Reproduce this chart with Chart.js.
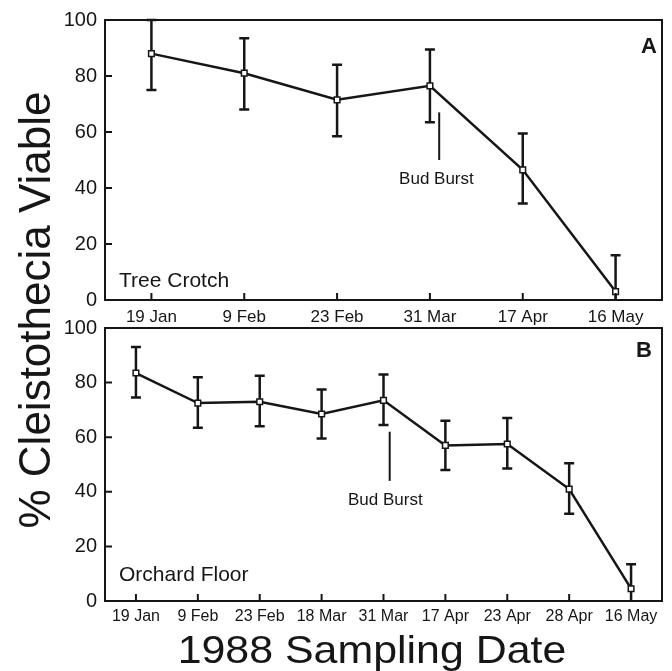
<!DOCTYPE html>
<html>
<head>
<meta charset="utf-8">
<script src="https://cdn.jsdelivr.net/npm/chart.js@4"></script>
<style>
  html, body { margin: 0; padding: 0; background: #fff; }
  #wrap { position: relative; width: 672px; height: 671px; overflow: hidden; }
  .box { position: absolute; left: 0; width: 672px; }
  #topBox { top: 0; height: 330px; }
  #botBox { top: 300px; height: 371px; }
  #ytitle { position: absolute; left: -215px; top: 285px; width: 500px; height: 50px; line-height: 50px;
    text-align: center; transform: rotate(-90deg); font-family: "Liberation Sans", Arial, sans-serif;
    font-size: 44px; color: #161616; white-space: nowrap; }
  #xtitle { position: absolute; left: 122px; top: 630px; width: 500px; height: 39px; line-height: 39px;
    text-align: center; transform: scaleX(1.1); transform-origin: 50% 50%; font-family: "Liberation Sans", Arial, sans-serif;
    font-size: 39px; color: #161616; white-space: nowrap; }
</style>
</head>
<body>
<div id="wrap">
  <div class="box" id="topBox"><canvas id="cTop" width="672" height="330"></canvas></div>
  <div class="box" id="botBox"><canvas id="cBot" width="672" height="371"></canvas></div>
  <div id="ytitle">% Cleistothecia Viable</div>
  <div id="xtitle">1988 Sampling Date</div>
</div>
<script>
// ---- Data ----
const topDates = ['19 Jan', '9 Feb', '23 Feb', '31 Mar', '17 Apr', '16 May'];
const topMean  = [88, 81, 71.5, 76.5, 46.5, 3];
const topLow   = [75, 68, 58.5, 63.5, 34.5, 0];
const topHigh  = [100, 93.5, 84, 89.5, 59.5, 16];

const botDates = ['19 Jan', '9 Feb', '23 Feb', '18 Mar', '31 Mar', '17 Apr', '23 Apr', '28 Apr', '16 May'];
const botMean  = [83.5, 72.5, 73, 68.5, 73.5, 57, 57.5, 41, 4.5];
const botLow   = [74.5, 63.5, 64, 59.5, 64.5, 48, 48.5, 32, 0];
const botHigh  = [93, 82, 82.5, 77.5, 83, 66, 67, 50.5, 13.5];

const yTicks = [0, 20, 40, 60, 80, 100];

// Bud burst marker: [x index position, line bottom value, line top value, label x index, label value]
const budBurstTop = [3.1, 50, 67, 3.07, 43];
const budBurstBot = [4.1, 44, 62, 4.03, 37];

const panelLabels = ['A', 'B'];
const siteLabels = ['Tree Crotch', 'Orchard Floor'];

const FONT = '"Liberation Sans", Arial, Helvetica, sans-serif';
const INK = '#161616';

function makeDecor(low, high, bud, panel, site, siteY) {
  return {
    id: 'decor',
    beforeDatasetsDraw(chart) {
      const {ctx, chartArea: a, scales: {x, y}} = chart;
      ctx.save();
      // error bars
      ctx.strokeStyle = INK;
      ctx.lineWidth = 2.5;
      ctx.lineCap = 'butt';
      for (let i = 0; i < low.length; i++) {
        const px = x.getPixelForValue(i);
        const y1 = y.getPixelForValue(low[i]);
        const y2 = y.getPixelForValue(high[i]);
        ctx.beginPath();
        ctx.moveTo(px, y1); ctx.lineTo(px, y2);
        ctx.moveTo(px - 5, y2); ctx.lineTo(px + 5, y2);
        if (low[i] > 0) { ctx.moveTo(px - 5, y1); ctx.lineTo(px + 5, y1); }
        ctx.stroke();
      }
      // bud burst line
      ctx.lineWidth = 2;
      const bx = x.getPixelForValue(bud[0]);
      ctx.beginPath();
      ctx.moveTo(bx, y.getPixelForValue(bud[1]));
      ctx.lineTo(bx, y.getPixelForValue(bud[2]));
      ctx.stroke();
      ctx.fillStyle = INK;
      ctx.font = '17px ' + FONT;
      ctx.textAlign = 'center';
      ctx.textBaseline = 'middle';
      ctx.fillText('Bud Burst', x.getPixelForValue(bud[3]), y.getPixelForValue(bud[4]));
      // panel letter
      ctx.font = 'bold 22px ' + FONT;
      ctx.textAlign = 'right';
      ctx.fillText(panel, a.right - (panel === 'A' ? 5 : 10), a.top + (panel === 'A' ? 27 : 23));
      // site label
      ctx.font = '21px ' + FONT;
      ctx.textAlign = 'left';
      ctx.fillText(site, a.left + 14, siteY(a));
      ctx.restore();
    },
    afterDraw(chart) {
      const {ctx, chartArea: a, scales: {x, y}} = chart;
      ctx.save();
      ctx.strokeStyle = INK;
      ctx.lineWidth = 2;
      ctx.strokeRect(a.left, a.top, a.right - a.left, a.bottom - a.top);
      ctx.beginPath();
      for (let i = 0; i < x.ticks.length; i++) {
        const px = x.getPixelForValue(i);
        ctx.moveTo(px, a.bottom); ctx.lineTo(px, a.bottom - 7);
      }
      yTicks.forEach(v => {
        const py = y.getPixelForValue(v);
        ctx.moveTo(a.left, py); ctx.lineTo(a.left + 7, py);
      });
      ctx.stroke();
      ctx.restore();
    }
  };
}

function makeChart(canvas, labels, mean, low, high, bud, panel, site, siteY, opts) {
  return new Chart(canvas, {
    type: 'line',
    data: {
      labels: labels,
      datasets: [{
        data: mean,
        borderColor: INK,
        borderWidth: 2.5,
        pointStyle: 'rect',
        pointRadius: 4,
        pointBackgroundColor: '#fff',
        pointBorderColor: INK,
        pointBorderWidth: 1.5,
        tension: 0,
        clip: false
      }]
    },
    options: {
      responsive: false,
      animation: false,
      events: [],
      layout: { padding: opts.padding },
      plugins: { legend: { display: false }, tooltip: { enabled: false }, title: { display: false } },
      scales: {
        x: {
          type: 'category',
          offset: true,
          grid: { display: false, drawTicks: false },
          border: { display: false },
          ticks: { color: INK, font: { family: FONT, size: opts.xFont }, padding: opts.xPad, maxRotation: 0, autoSkip: false },
          afterFit: s => { s.height = opts.xHeight; }
        },
        y: {
          min: 0, max: 100,
          afterBuildTicks: s => { s.ticks = yTicks.map(v => ({ value: v })); },
          grid: { display: false, drawTicks: false },
          border: { display: false },
          ticks: { color: INK, font: { family: FONT, size: 20 }, padding: 8 },
          afterFit: s => { s.width = 105; }
        }
      }
    },
    plugins: [makeDecor(low, high, bud, panel, site, siteY)]
  });
}

makeChart(document.getElementById('cTop'), topDates, topMean, topLow, topHigh, budBurstTop,
  panelLabels[0], siteLabels[0], a => a.bottom - 19, {
    padding: { top: 18, right: 10, left: 0, bottom: 0 },
    xFont: 17, xPad: 7, xHeight: 30
  });

makeChart(document.getElementById('cBot'), botDates, botMean, botLow, botHigh, budBurstBot,
  panelLabels[1], siteLabels[1], a => a.bottom - 26, {
    padding: { top: 28, right: 10, left: 0, bottom: 0 },
    xFont: 16, xPad: 6, xHeight: 70
  });
</script>
</body>
</html>
